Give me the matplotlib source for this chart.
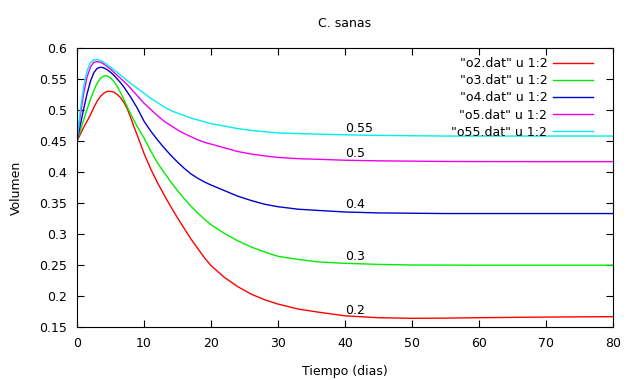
import matplotlib
matplotlib.use("Agg")
import matplotlib.pyplot as plt

t = [0, 0.5, 1, 1.5, 2, 2.5, 3, 3.5, 4, 4.5, 5, 5.5, 6, 6.5, 7, 7.5, 8, 8.5, 9,
     10, 11, 12, 13, 14, 15, 16, 17, 18, 19, 20,
     22, 24, 26, 28, 30,
     33, 36, 40, 45, 50, 55, 60, 70, 80]

o2 = [.450, .461, .472, .482, .492, .504, .514, .522, .527, .530, .530, .529, .525, .520, .512, .502, .488, .473, .459,
      .430, .405, .383, .363, .344, .326, .309, .292, .277, .262, .249,
      .230, .215, .203, .194, .187,
      .179, .174, .168, .165, .164, .1643, .165, .166, .1667]
o3 = [.450, .467, .484, .501, .517, .531, .543, .551, .555, .555, .552, .546, .538, .528, .517, .505, .494, .483, .473,
      .455, .434, .415, .399, .384, .370, .357, .345, .334, .324, .315,
      .301, .289, .279, .271, .264,
      .259, .255, .2527, .251, .250, .2498, .2497, .2497, .2497]
o4 = [.450, .476, .502, .526, .546, .560, .567, .569, .568, .565, .561, .556, .550, .544, .537, .529, .521, .512, .503,
      .482, .466, .452, .439, .427, .416, .406, .397, .390, .384, .379,
      .370, .361, .354, .348, .344,
      .340, .338, .3355, .334, .3335, .333, .333, .333, .333]
o5 = [.450, .492, .527, .553, .569, .577, .578, .577, .574, .570, .566, .561, .556, .551, .546, .541, .535, .529, .523,
      .511, .501, .491, .482, .475, .468, .462, .457, .452, .448, .445,
      .439, .433, .429, .426, .4235,
      .4215, .4205, .419, .418, .4175, .417, .4168, .4167, .4167]
o55 = [.450, .500, .538, .563, .576, .581, .581, .580, .577, .573, .569, .565, .561, .556, .552, .547, .543, .539, .535,
       .527, .519, .512, .505, .499, .495, .491, .487, .484, .481, .478,
       .474, .470, .467, .465, .463,
       .462, .461, .460, .459, .4585, .458, .458, .458, .458]

series_labels = ['"o2.dat" u 1:2', '"o3.dat" u 1:2', '"o4.dat" u 1:2', '"o5.dat" u 1:2', '"o55.dat" u 1:2']
colors = ['#ff0000', '#00ee00', '#0000cc', '#ee00ee', '#00eeee']
annot_text = ['0.2', '0.3', '0.4', '0.5', '0.55']
annot_x = 40
annot_y = [0.177, 0.263, 0.348, 0.430, 0.470]

xticks = [0, 10, 20, 30, 40, 50, 60, 70, 80]
yticks = [0.15, 0.2, 0.25, 0.3, 0.35, 0.4, 0.45, 0.5, 0.55, 0.6]
ytick_labels = ['0.15', '0.2', '0.25', '0.3', '0.35', '0.4', '0.45', '0.5', '0.55', '0.6']

plt.rcParams['font.family'] = ['DejaVu Sans']
fig = plt.figure(figsize=(6.29, 3.80), dpi=100)
ax = fig.add_axes([77/629, 1-327/380, (613-77)/629, (327-48)/380])

for ys, lab, c in zip([o2, o3, o4, o5, o55], series_labels, colors):
    ax.plot(t, ys, color=c, lw=1.0, label=lab)

for txt, yv in zip(annot_text, annot_y):
    ax.text(annot_x, yv, txt, fontsize=9, ha='left', va='center')

ax.set_xlim(0, 80)
ax.set_ylim(0.15, 0.6)
ax.set_xticks(xticks)
ax.set_yticks(yticks)
ax.set_yticklabels(ytick_labels)
ax.tick_params(direction='in', top=True, right=True, labelsize=9, length=5, width=0.8, pad=7)
for s in ax.spines.values():
    s.set_linewidth(0.8)

ax.set_title('C. sanas', fontsize=9, pad=15)
ax.set_xlabel('Tiempo (dias)', fontsize=9, labelpad=11)
ax.set_ylabel('Volumen', fontsize=9, labelpad=12)

leg = ax.legend(loc='upper right', bbox_to_anchor=(0.972, 0.985), frameon=False, markerfirst=False,
                fontsize=9, handlelength=3.2, labelspacing=0.33, handletextpad=0.45, borderaxespad=0)

fig.savefig('out.png', dpi=100)
